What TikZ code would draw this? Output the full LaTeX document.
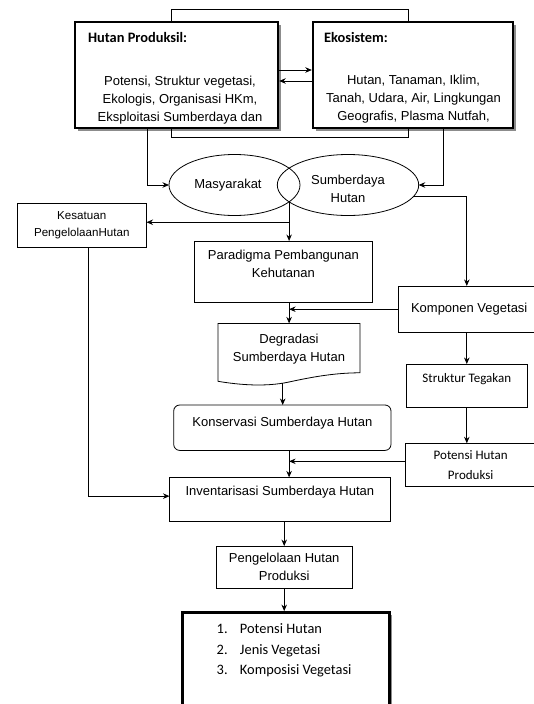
\documentclass[tikz,border=0pt]{standalone}
\usepackage{fontspec}
\setmainfont{Liberation Sans}
\newfontfamily\calib{Carlito}
\usetikzlibrary{arrows.meta,shadows,calc,shapes.geometric}
\newcommand{\topbox}[4]{\parbox[c][#2][t]{#1}{\centering\vspace*{#3}#4}}
\begin{document}
\begin{tikzpicture}[x=1pt,y=-1pt,
  every node/.style={inner sep=0pt, outer sep=0pt},
  conn/.style={line width=0.8pt},
  arr/.style={line width=0.8pt, -{Stealth[length=6.5pt,width=5.5pt]}},
  thinbox/.style={draw, line width=0.8pt},
  heavybox/.style={draw, line width=2.6pt, fill=white, drop shadow={shadow xshift=2.8pt, shadow yshift=-2.8pt, fill=black!45, opacity=1}},
  ar/.style={font=\fontsize{13}{18}\selectfont},
  ca/.style={font=\calib\fontsize{13}{20.7}\selectfont},
  cb/.style={font=\calib\fontsize{14.4}{20.4}\selectfont},
  cbb/.style={font=\calib\bfseries\fontsize{14.4}{20.4}\selectfont},
  ell/.style={draw, ellipse, line width=0.8pt},
]
\path[use as bounding box] (0,0) rectangle (534,704);
\clip (0,0) rectangle (534,704);
\fill[white] (0,0) rectangle (534,704);

% top boxes
\node[heavybox, minimum width=203pt, minimum height=106pt] (hp) at (176.5,75) {};
\node[heavybox, minimum width=200pt, minimum height=106pt] (eko) at (413,75) {};
\node[cbb, anchor=west] (hpt) at (88,38) {Hutan Produksil:};
\node[ar, align=center] (hpb) at (180,100) {Potensi, Struktur vegetasi,\\Ekologis, Organisasi HKm,\\Eksploitasi Sumberdaya dan};
\node[cbb, anchor=west] (ekt) at (324,38) {Ekosistem:};
\node[ar, align=center] (ekb) at (413.5,99.5) {Hutan, Tanaman, Iklim,\\Tanah, Udara, Air, Lingkungan\\Geografis, Plasma Nutfah,};

% ellipses
\node[ell, ar, minimum width=131pt, minimum height=61pt] (mas) at (234.5,185) {\hspace*{-13pt}Masyarakat};
\node[ell, font=\fontsize{13}{17.6}\selectfont, align=center, minimum width=141.4pt, minimum height=61pt] (sdh) at (348,185) {\rule{0pt}{17.4pt}Sumberdaya\\Hutan};
\coordinate (ix) at (289.1,201.8);

% left and middle column
\node[thinbox, align=center, font=\fontsize{11.6}{16.5}\selectfont, minimum width=129.5pt, minimum height=44.5pt] (kes) at (81.75,225.25) {Kesatuan\\PengelolaanHutan};
\node[thinbox, ar] (par) at (283.4,271.5) {\topbox{177.2pt}{61pt}{9pt}{Paradigma Pembangunan\\Kehutanan}};
\node[ar, align=center, minimum width=142pt, minimum height=51.6pt] (deg) at (289,349.2) {Degradasi\\Sumberdaya Hutan};
\node[thinbox, ar, rounded corners=6pt] (kon) at (282.35,427.7) {\topbox{217.3pt}{45.4pt}{11.8pt}{Konservasi Sumberdaya Hutan}};
\node[thinbox, ar] (inv) at (279.9,499.55) {\topbox{220.8pt}{44.3pt}{8.2pt}{Inventarisasi Sumberdaya Hutan}};
\node[thinbox, ar, align=center, minimum width=136.3pt, minimum height=42.3pt] (pen) at (284.2,567.2) {Pengelolaan Hutan\\Produksi};
\node[heavybox, minimum width=207pt, minimum height=102pt] (lst) at (285.8,663.3) {};
\node[cb, anchor=north west, align=left] (lstt) at (216.7,623.7) {\makebox[23.3pt][l]{1.}Potensi Hutan\\\makebox[23.3pt][l]{2.}Jenis Vegetasi\\\makebox[23.3pt][l]{3.}Komposisi Vegetasi};

% right column
\node[thinbox, ar, minimum width=141.5pt, minimum height=46.5pt] (kom) at (469.2,309.2) {Komponen Vegetasi};
\node[thinbox, ca] (str) at (466.8,385.75) {\topbox{120.5pt}{43.5pt}{9.7pt}{Struktur Tegakan}};
\node[thinbox, ca, align=center, minimum width=131pt, minimum height=43.4pt] (pot) at (470.7,465) {Potensi Hutan\\Produksi};

% document shape of Degradasi
\draw[conn] (deg.north west) -- (deg.north east) -- ($(deg.south east)+(0,-2.2)$)
  .. controls ($(deg.south east)+(-25,-2.2)$) and ($(deg.south)+(23,2)$) .. ($(deg.south)+(0,7)$)
  .. controls ($(deg.south)+(-23,12)$) and ($(deg.south west)+(22,10)$) .. ($(deg.south west)+(0,6.3)$) -- cycle;

% connectors at top
\coordinate (lt1) at (171,9);
\coordinate (lt2) at (408,9);
\coordinate (lb1) at (171,137);
\coordinate (lb2) at (408,137);
\draw[conn] (hp.north -| lt1) -- (lt1) -- (lt2) -- (eko.north -| lt2);
\draw[conn] (hp.south -| lb1) -- (lb1) -- (lb2) -- (eko.south -| lb2);
\draw[arr, shorten >=1.2pt] ([yshift=5pt]hp.east) -- ([yshift=5pt]eko.west);
\draw[arr, shorten >=1.2pt] ([yshift=-6pt]eko.west) -- ([yshift=-6pt]hp.east);
\draw[arr] ([xshift=-29.2pt]hp.south) |- (mas.west);
\draw[arr] ([xshift=30.3pt]eko.south) |- (sdh.east);

% middle flow
\coordinate (kesin) at ([yshift=3pt]kes.east);
\draw[arr] (ix) -- (ix |- par.north);
\draw[arr] (ix |- kesin) -- (kesin);
\draw[arr] (ix |- par.south) -- (ix |- deg.north);
\coordinate (degb) at ($(deg.south)+(-6.3,8)$);
\draw[arr] (degb) -- (degb |- kon.north);
\draw[arr] (ix |- kon.south) -- (ix |- inv.north);
\coordinate (invin) at ([yshift=3.4pt]inv.west);
\draw[arr] ([xshift=6.15pt]kes.south) |- (invin);
\draw[arr] (pen.north |- inv.south) -- (pen.north);
\draw[arr, shorten >=1.2pt] (pen.south) -- (pen.south |- lst.north);

% right flow
\draw[arr] (sdh.-10) -| (str.north |- kom.north);
\draw[arr] (kom.west) -- (kom.west -| ix);
\draw[arr] (str.north |- kom.south) -- (str.north);
\draw[arr] (str.south) -- (str.south |- pot.north);
\coordinate (potout) at ([yshift=3.7pt]pot.west);
\draw[arr] (potout) -- (potout -| ix);
\end{tikzpicture}
\end{document}
